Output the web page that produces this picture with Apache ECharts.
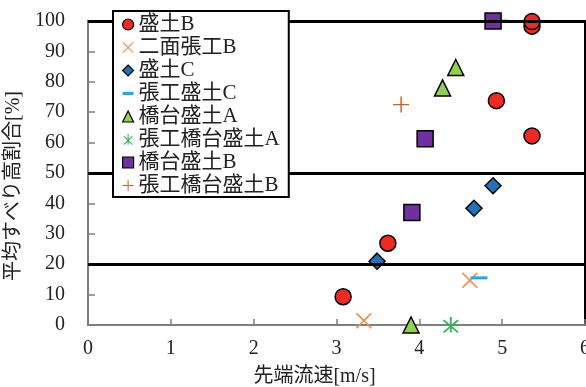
<!DOCTYPE html>
<html>
<head>
<meta charset="utf-8">
<script src="https://cdn.jsdelivr.net/npm/echarts@6/dist/echarts.min.js"></script>
<style>html,body{margin:0;padding:0;background:#fff;}#c{width:586px;height:387px;}</style>
</head>
<body>
<div id="c"></div>
<script>
// Data: [flow speed m/s, average slip-height ratio %]
const seriesNames = ['盛土B','二面張工B','盛土C','張工盛土C','橋台盛土A','張工橋台盛土A','橋台盛土B','張工橋台盛土B'];
const moritsuchiB = [[3.08,9.3],[3.62,26.9],[4.93,73.8],[5.36,62.2],[5.36,98.3],[5.36,99.8]];
const nimenHarikouB = [[3.33,1.4],[4.61,14.7]];
const moritsuchiC = [[3.49,21],[4.66,38.4],[4.89,45.8]];
const harikouMoritsuchiC = [[4.72,15.5],[4.96,100]];
const kyoudaiMoritsuchiA = [[3.90,0],[4.28,78],[4.44,84.7]];
const harikouKyoudaiA = [[4.38,0]];
const kyoudaiMoritsuchiB = [[4.89,100],[4.07,61.3],[3.91,37]];
const harikouKyoudaiB = [[3.78,72.5]];
const refLines = [20, 50, 100];
const xTicks = {min:0, max:6, interval:1};
const yTicks = {min:0, max:100, interval:10};

const FONT = '"Liberation Serif", "Noto Sans CJK JP", serif';
const X_PATH = 'path://M0,0.7 L0.7,0 L5,4.3 L9.3,0 L10,0.7 L5.7,5 L10,9.3 L9.3,10 L5,5.7 L0.7,10 L0,9.3 L4.3,5 Z';
const PLUS_PATH = 'path://M4.55,0 L5.45,0 L5.45,4.55 L10,4.55 L10,5.45 L5.45,5.45 L5.45,10 L4.55,10 L4.55,5.45 L0,5.45 L0,4.55 L4.55,4.55 Z';
const STAR_PATH = 'path://M4.5,0 L5.5,0 L5.5,10 L4.5,10 Z M1.35,1.65 L9.35,9.65 L8.65,10.35 L0.65,2.35 Z M8.65,1.65 L9.35,2.35 L1.35,10.35 L0.65,9.65 Z';
const DASH_PATH = 'path://M0,0 L10,0 L10,3 L0,3 Z';
const legendIcons = ['circle', X_PATH, 'diamond', DASH_PATH, 'triangle', STAR_PATH, 'rect', PLUS_PATH];

function sc(name, data, symbol, size, color, border) {
  return {
    name, type:'scatter', data, symbol, symbolSize:size, z:3,
    itemStyle: border ? {color, opacity:1, borderColor:'#000', borderWidth:1.5} : {color, opacity:1, borderWidth:0}
  };
}

const chart = echarts.init(document.getElementById('c'), null, {renderer:'canvas'});
chart.setOption({
  animation:false,
  backgroundColor:'#fff',
  grid:{left:88, right:1, top:21, bottom:62, show:true, borderColor:'#000', borderWidth:2, backgroundColor:'transparent', outerBoundsMode:'none', containLabel:false},
  legend:{
    orient:'vertical', left:113, top:11, z:10,
    backgroundColor:'#fff', borderColor:'#000', borderWidth:2,
    padding:[3,9,1,9], itemGap:2, itemWidth:11, itemHeight:11,
    itemStyle:{borderWidth:1.2},
    textStyle:{fontFamily:FONT, fontSize:21, color:'#222'},
    data: seriesNames.map((n, i) => ({name:n, icon:legendIcons[i]}))
  },
  xAxis:{
    type:'value', min:xTicks.min, max:xTicks.max, interval:xTicks.interval,
    name:'先端流速[m/s]', nameLocation:'middle', nameGap:42,
    nameTextStyle:{fontFamily:FONT, fontSize:20, color:'#222', padding:[0,44,0,0]},
    axisLine:{show:true, onZero:false, lineStyle:{color:'#7f7f7f', width:2}},
    axisTick:{show:true, inside:true, length:6, lineStyle:{color:'#7f7f7f', width:1.5}},
    axisLabel:{fontFamily:FONT, fontSize:20, color:'#222', margin:14},
    splitLine:{show:false}
  },
  yAxis:{
    type:'value', min:yTicks.min, max:yTicks.max, interval:yTicks.interval,
    name:'平均すべり高割合[%]', nameLocation:'middle', nameGap:60, nameRotate:90,
    nameTextStyle:{fontFamily:FONT, fontSize:20, color:'#222', padding:[0,26,0,0]},
    axisLine:{show:true, onZero:false, lineStyle:{color:'#7f7f7f', width:2}},
    axisTick:{show:true, inside:true, length:7, lineStyle:{color:'#7f7f7f', width:1.5}},
    axisLabel:{fontFamily:FONT, fontSize:20, color:'#222', margin:23},
    splitLine:{show:false}
  },
  series:[
    {
      name:'refLines', type:'scatter', data:[], z:1, silent:true,
      markLine:{
        silent:true, symbol:['none','none'], label:{show:false},
        lineStyle:{color:'#000', width:3, type:'solid'},
        data: refLines.map(v => ({yAxis:v}))
      }
    },
    sc('盛土B', moritsuchiB, 'circle', 16, '#ee2a24', true),
    sc('二面張工B', nimenHarikouB, X_PATH, 16, '#f08a4b', false),
    sc('盛土C', moritsuchiC, 'diamond', 16, '#2272b8', true),
    sc('張工盛土C', harikouMoritsuchiC, 'rect', [17,3], '#29a8e0', false),
    sc('橋台盛土A', kyoudaiMoritsuchiA, 'triangle', 16, '#92d050', true),
    sc('張工橋台盛土A', harikouKyoudaiA, STAR_PATH, 16, '#2fb457', false),
    sc('橋台盛土B', kyoudaiMoritsuchiB, 'rect', 16, '#7030a0', true),
    sc('張工橋台盛土B', harikouKyoudaiB, PLUS_PATH, 16, '#c0622c', false)
  ]
});
</script>
</body>
</html>
